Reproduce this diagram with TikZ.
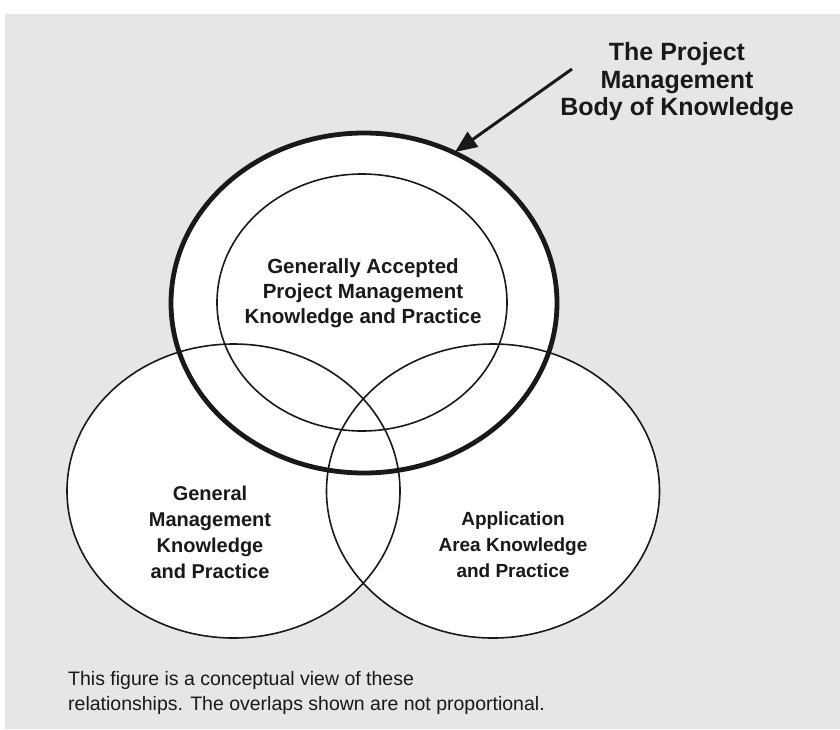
\documentclass[tikz,border=0pt]{standalone}
\usepackage{fontspec}
\setmainfont{Liberation Sans}
\usetikzlibrary{arrows.meta}
\definecolor{bggray}{RGB}{230,230,230}
\definecolor{ink}{RGB}{25,25,25}
\tikzset{
  thinring/.style={draw=ink, line width=1.6pt},
  thickring/.style={draw=ink, line width=4.8pt},
  boldlabel/.style={align=center, font=\bfseries\fontsize{20pt}{26pt}\selectfont, text=ink, inner sep=0pt},
  headlabel/.style={align=center, font=\bfseries\fontsize{25pt}{27.5pt}\selectfont, text=ink, inner sep=0pt},
  notelabel/.style={align=left, font=\fontsize{19.5pt}{25pt}\selectfont, text=ink, inner sep=0pt},
  pointer/.style={draw=ink, line width=3pt, -{Triangle[length=22pt,width=18pt]}}
}
\begin{document}
\begin{tikzpicture}[x=1pt,y=-1pt]
\useasboundingbox (0,0) rectangle (840,729);
\fill[white] (0,0) rectangle (840,729);
\fill[bggray] (5,14) rectangle (840,729);
% white fills
\fill[white] (233.5,491) ellipse [x radius=166.5pt, y radius=147pt];
\fill[white] (493,491) ellipse [x radius=166.5pt, y radius=147pt];
\fill[white] (364,303) ellipse [x radius=193pt, y radius=170pt];
% outlines
\draw[thinring] (233.5,491) ellipse [x radius=166.5pt, y radius=147pt];
\draw[thinring] (493,491) ellipse [x radius=166.5pt, y radius=147pt];
\draw[thinring] (362,302.5) ellipse [x radius=145pt, y radius=128.5pt];
\draw[thickring] (364,303) ellipse [x radius=193pt, y radius=170pt];
% labels
\node[boldlabel, font=\bfseries\fontsize{20.5pt}{25pt}\selectfont] (gap) at (363,293) {Generally Accepted\\Project Management\\Knowledge and Practice};
\node[boldlabel] (gm) at (210,532) {General\\Management\\Knowledge\\and Practice};
\node[boldlabel, font=\bfseries\fontsize{19pt}{26pt}\selectfont] (aa) at (513,545) {Application\\Area Knowledge\\and Practice};
\node[headlabel] (head) at (677,82) {The Project\\Management\\Body of Knowledge};
\coordinate (tail) at (572,69);
\coordinate (tip) at (455,152);
\draw[pointer] (tail) -- (tip);
\node[notelabel, anchor=west] (note) at (68,693) {This figure is a conceptual view of these\\relationships. The overlaps shown are not proportional.};
\end{tikzpicture}
\end{document}
